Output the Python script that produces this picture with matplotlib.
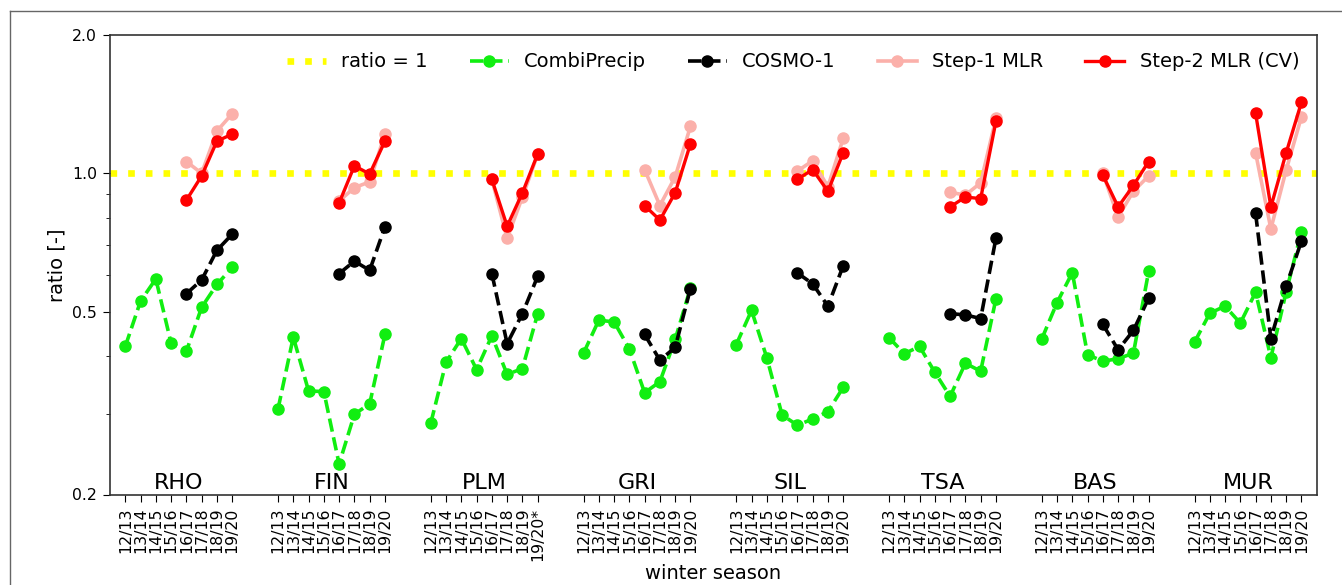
import numpy as np
import matplotlib
matplotlib.use("Agg")
import matplotlib.pyplot as plt
from matplotlib.lines import Line2D
from matplotlib.ticker import FixedLocator, NullFormatter

stations = ['RHO', 'FIN', 'PLM', 'GRI', 'SIL', 'TSA', 'BAS', 'MUR']
seasons = ['12/13', '13/14', '14/15', '15/16', '16/17', '17/18', '18/19', '19/20']

# CombiPrecip ratio, all 8 seasons per station
combiprecip = [
    [0.420, 0.527, 0.589, 0.427, 0.410, 0.511, 0.573, 0.624],  # RHO
    [0.307, 0.440, 0.336, 0.335, 0.233, 0.299, 0.315, 0.446],  # FIN
    [0.286, 0.388, 0.437, 0.374, 0.443, 0.365, 0.376, 0.495],  # PLM
    [0.406, 0.479, 0.475, 0.415, 0.333, 0.352, 0.435, 0.563],  # GRI
    [0.424, 0.503, 0.397, 0.298, 0.283, 0.292, 0.303, 0.342],  # SIL
    [0.439, 0.405, 0.420, 0.369, 0.327, 0.386, 0.371, 0.533],  # TSA
    [0.436, 0.523, 0.608, 0.403, 0.390, 0.395, 0.406, 0.612],  # BAS
    [0.429, 0.496, 0.514, 0.472, 0.551, 0.397, 0.552, 0.746],  # MUR
]
# last four seasons (16/17 - 19/20)
cosmo1 = [
    [0.547, 0.586, 0.680, 0.737],
    [0.605, 0.644, 0.615, 0.765],
    [0.605, 0.426, 0.495, 0.597],
    [0.446, 0.392, 0.418, 0.561],
    [0.607, 0.575, 0.514, 0.629],
    [0.495, 0.492, 0.483, 0.722],
    [0.469, 0.413, 0.455, 0.535],
    [0.818, 0.437, 0.568, 0.712],
]
step1_mlr = [
    [1.061, 1.000, 1.236, 1.348],
    [0.870, 0.931, 0.958, 1.219],
    [0.970, 0.722, 0.888, 1.100],
    [1.019, 0.851, 0.982, 1.265],
    [1.011, 1.065, 0.935, 1.191],
    [0.909, 0.897, 0.953, 1.317],
    [1.000, 0.804, 0.914, 0.987],
    [1.108, 0.757, 1.016, 1.327],
]
step2_mlr_cv = [
    [0.874, 0.987, 1.175, 1.217],
    [0.862, 1.038, 0.997, 1.175],
    [0.970, 0.767, 0.907, 1.102],
    [0.851, 0.791, 0.907, 1.159],
    [0.970, 1.019, 0.914, 1.108],
    [0.845, 0.888, 0.881, 1.297],
    [0.991, 0.845, 0.941, 1.061],
    [1.351, 0.845, 1.108, 1.427],
]

fig = plt.figure(figsize=(13.42, 5.85), dpi=100)
W, H = 1342, 585
ax = fig.add_axes([110 / W, 1 - 494.5 / H, (1316.7 - 110) / W, (494.5 - 35) / H])

GREEN = '#11ee11'
PINK = '#fbb0aa'
RED = '#ff0000'

ax.axhline(1.0, color='#ffff00', ls=':', lw=4.8, zorder=1)

gap = 10
nS = len(seasons)
xticks, xlabels = [], []
for g, st in enumerate(stations):
    x = np.arange(nS) + g * gap
    xl = x[4:]
    ax.plot(x, combiprecip[g], color=GREEN, ls='--', lw=2.6, marker='o', ms=8, zorder=2)
    ax.plot(xl, cosmo1[g], color='black', ls='--', lw=2.6, marker='o', ms=8, zorder=3)
    ax.plot(xl, step1_mlr[g], color=PINK, ls='-', lw=2.6, marker='o', ms=8, zorder=4)
    ax.plot(xl, step2_mlr_cv[g], color=RED, ls='-', lw=2.4, marker='o', ms=8, zorder=5)
    xticks.extend(x)
    labs = list(seasons)
    if st == 'PLM':
        labs[-1] = '19/20*'
    xlabels.extend(labs)
    ax.text(g * gap + 3.5, 0.012, st, transform=ax.get_xaxis_transform(),
            ha='center', va='baseline', fontsize=16)

ax.set_yscale('log')
ax.set_ylim(0.2, 2.0)
ax.set_xlim(-1, 78)
ax.yaxis.set_major_locator(FixedLocator([0.2, 0.5, 1.0, 2.0]))
ax.set_yticklabels(['0.2', '0.5', '1.0', '2.0'])
ax.yaxis.set_minor_locator(FixedLocator([0.3, 0.4, 0.6, 0.7, 0.8, 0.9]))
ax.yaxis.set_minor_formatter(NullFormatter())
ax.set_xticks(xticks)
ax.set_xticklabels(xlabels, rotation=90)
ax.tick_params(axis='both', which='major', labelsize=11.3, length=5, pad=4.5)
ax.tick_params(axis='y', which='minor', length=3)
for s in ax.spines.values():
    s.set_color('#333333')
    s.set_linewidth(1.2)

ax.set_ylabel('ratio [-]', fontsize=14)
ax.set_xlabel('winter season', fontsize=14, labelpad=2.5)

handles = [
    Line2D([], [], color='#ffff00', ls=':', lw=4.8),
    Line2D([], [], color=GREEN, ls='--', lw=2.6, marker='o', ms=8),
    Line2D([], [], color='black', ls='--', lw=2.6, marker='o', ms=8),
    Line2D([], [], color=PINK, ls='-', lw=2.6, marker='o', ms=8),
    Line2D([], [], color=RED, ls='-', lw=2.4, marker='o', ms=8),
]
labels = ['ratio = 1', 'CombiPrecip', 'COSMO-1', 'Step-1 MLR', 'Step-2 MLR (CV)']
ax.legend(handles, labels, loc='upper right', ncol=5, frameon=False, fontsize=14,
          columnspacing=2.15, borderaxespad=0.5)

# outer (cropped) figure border
fig.add_artist(Line2D([9.5 / W, 9.5 / W], [0, 1 - 10.5 / H], transform=fig.transFigure,
                      color='#666666', lw=1))
fig.add_artist(Line2D([9.5 / W, 1], [1 - 10.5 / H, 1 - 10.5 / H], transform=fig.transFigure,
                      color='#666666', lw=1))

fig.savefig('out.png', dpi=100)
